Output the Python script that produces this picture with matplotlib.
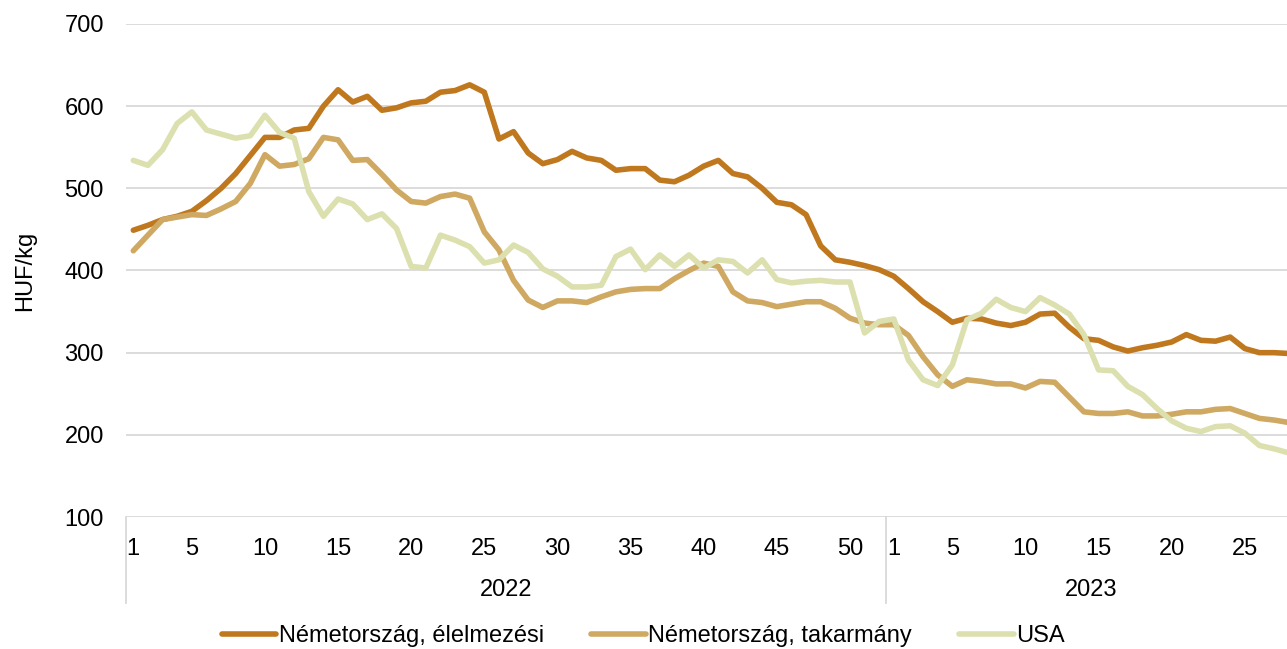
# -*- coding: utf-8 -*-
# Heti arak: Nemetorszag (elelmezesi, takarmany) es USA, HUF/kg
import matplotlib
matplotlib.use("Agg")
import matplotlib.pyplot as plt
from matplotlib.transforms import blended_transform_factory

plt.rcParams["font.family"] = ["Liberation Sans", "DejaVu Sans"]

# 2022: 1-52. het, 2023: 1-28. het
HETEK = list(range(1, 53)) + list(range(1, 29))
EVEK = ["2022", "2023"]
EV_HOSSZ = [52, 28]

NEVEK = ["Németország, élelmezési", "Németország, takarmány", "USA"]

ELELMEZESI = [
    449, 455, 462, 466, 472, 485, 500, 518, 540, 562,
    562, 571, 573, 600, 620, 605, 612, 595, 598, 604,
    606, 617, 619, 626, 617, 560, 569, 543, 530, 535,
    545, 537, 534, 522, 524, 524, 510, 508, 516, 527,
    534, 518, 514, 500, 483, 480, 468, 430, 413, 410,
    406, 401, 393, 378, 362, 350, 337, 342, 341, 336,
    333, 337, 347, 348, 331, 317, 315, 307, 302, 306,
    309, 313, 322, 315, 314, 319, 305, 300, 300, 299,
]

TAKARMANY = [
    424, 443, 462, 465, 468, 467, 475, 484, 506, 541,
    527, 529, 536, 562, 559, 534, 535, 517, 498, 484,
    482, 490, 493, 488, 447, 425, 388, 364, 355, 363,
    363, 361, 368, 374, 377, 378, 378, 390, 400, 409,
    405, 374, 363, 361, 356, 359, 362, 362, 354, 342,
    336, 334, 334, 321, 295, 273, 259, 267, 265, 262,
    262, 257, 265, 264, 246, 228, 226, 226, 228, 223,
    223, 225, 228, 228, 231, 232, 226, 220, 218, 215,
]

USA = [
    534, 528, 547, 579, 593, 571, 566, 561, 564, 589,
    568, 561, 496, 466, 487, 481, 462, 469, 451, 405,
    403, 443, 437, 429, 409, 413, 431, 422, 402, 393,
    380, 380, 382, 417, 426, 401, 419, 405, 419, 403,
    413, 411, 397, 413, 389, 385, 387, 388, 386, 386,
    324, 338, 341, 291, 267, 260, 285, 340, 348, 365,
    355, 350, 367, 358, 347, 322, 279, 278, 259, 249,
    232, 217, 208, 204, 210, 211, 202, 187, 183, 178,
]

SZINEK = ["#C0781E", "#CFA862", "#DCE0AE"]
RACS = "#D9D9D9"
BETU = 17

W, H = 1287, 649
fig = plt.figure(figsize=(W / 100, H / 100), dpi=100)
# a rajzterulet jobb szele kilog a kepbol, mint az eredetin
ax = fig.add_axes([126 / W, 1 - 517 / H, 1170 / W, 493 / H])

x = list(range(len(HETEK)))
for adat, nev, szin in zip([ELELMEZESI, TAKARMANY, USA], NEVEK, SZINEK):
    ax.plot(x, adat, color=szin, lw=4.0, label=nev,
            solid_joinstyle="round", solid_capstyle="round")

ax.set_xlim(-0.5, len(HETEK) - 0.5)
ax.set_ylim(100, 700)
ax.set_yticks(range(100, 701, 100))
ax.grid(axis="y", color=RACS, lw=1.3)
ax.set_axisbelow(True)
for s in ax.spines.values():
    s.set_visible(False)

poz = [i for i, h in enumerate(HETEK) if h == 1 or h % 5 == 0]
ax.set_xticks(poz)
ax.set_xticklabels([str(HETEK[i]) for i in poz])
ax.tick_params(axis="x", length=0, pad=15, labelsize=BETU)
ax.tick_params(axis="y", length=0, pad=16, labelsize=BETU)
ax.set_ylabel("HUF/kg", fontsize=BETU, labelpad=20)

# evek es elvalaszto vonalak a kategoriatengely alatt
tr = blended_transform_factory(ax.transData, ax.transAxes)
hatar = [-0.5]
for n in EV_HOSSZ:
    hatar.append(hatar[-1] + n)
for b in hatar[:-1]:
    ax.plot([b, b], [0, -0.175], color=RACS, lw=1.3, transform=tr, clip_on=False)
for ev, a, b in zip(EVEK, hatar[:-1], hatar[1:]):
    ax.text((a + b) / 2, -0.148, ev, transform=tr, ha="center", va="center",
            fontsize=BETU)

fig.legend(loc="center", bbox_to_anchor=(0.5, 1 - 636 / H), ncol=3,
           frameon=False, fontsize=BETU, handlelength=2.3, handletextpad=0.12,
           columnspacing=2.0)

fig.savefig("out.png", dpi=100)
